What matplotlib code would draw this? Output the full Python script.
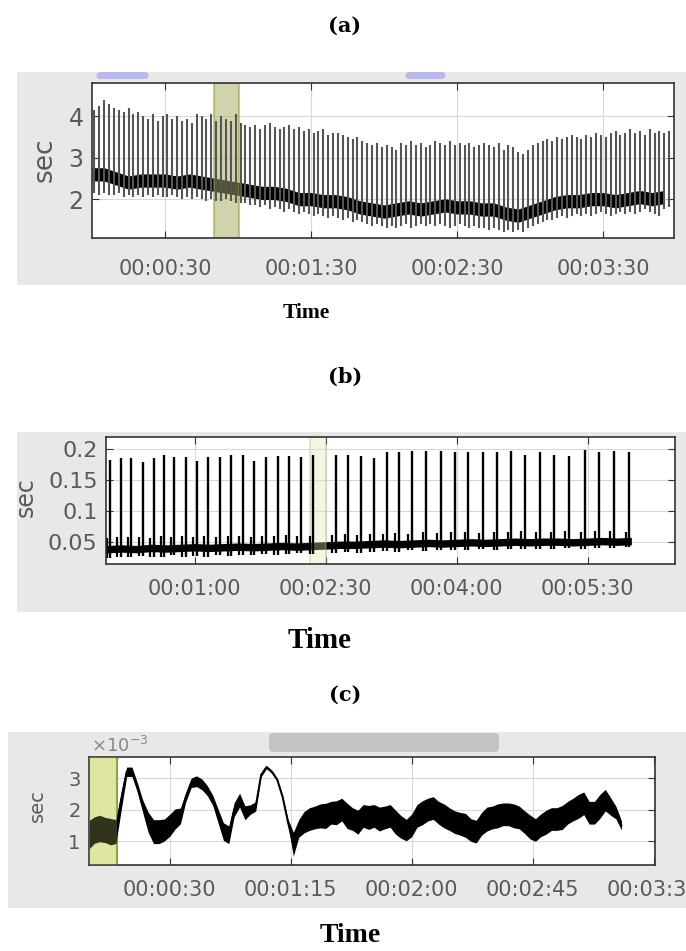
import numpy as np
import matplotlib
matplotlib.use('Agg')
import matplotlib.pyplot as plt
from matplotlib.patches import Rectangle, FancyBboxPatch
from matplotlib.ticker import FuncFormatter

# ---- panel (a): beat-to-beat spikes + dense black band (sec) ----
a_spike_step = 2.0   # s between spikes, first spike at 1 s
a_spike_top = [
    4.15, 4.25, 4.4, 4.3, 4.2, 4.15, 4.1, 4.2, 4.05, 4.1,
    4.0, 3.95, 4.05, 3.9, 4.0, 4.05, 3.95, 4.0, 3.9, 3.95,
    3.85, 4.05, 4.0, 3.95, 4.05, 3.9, 4.0, 3.95, 3.9, 4.05,
    3.85, 3.8, 3.75, 3.8, 3.7, 3.8, 3.85, 3.75, 3.7, 3.75,
    3.8, 3.7, 3.75, 3.65, 3.7, 3.6, 3.65, 3.7, 3.55, 3.6,
    3.6, 3.55, 3.5, 3.45, 3.5, 3.4, 3.35, 3.3, 3.35, 3.25,
    3.3, 3.25, 3.2, 3.35, 3.3, 3.4, 3.3, 3.35, 3.25, 3.3,
    3.4, 3.35, 3.3, 3.4, 3.3, 3.35, 3.3, 3.35, 3.25, 3.3,
    3.35, 3.3, 3.25, 3.35, 3.2, 3.3, 3.25, 3.15, 3.1, 3.2,
    3.3, 3.35, 3.4, 3.45, 3.4, 3.5, 3.45, 3.5, 3.55, 3.5,
    3.45, 3.55, 3.5, 3.6, 3.55, 3.5, 3.6, 3.65, 3.55, 3.6,
    3.7, 3.6, 3.65, 3.55, 3.7, 3.6, 3.65, 3.6, 3.65,
]
a_spike_low = [
    2.15, 2.1, 2.15, 2.1, 2.1, 2.15, 2.05, 2.1, 2.05, 2.1,
    2.05, 2.1, 2.05, 2.1, 2.05, 2.05, 2.1, 2.05, 2.0, 2.05,
    2.0, 2.05, 2.0, 1.95, 2.0, 1.95, 1.95, 2.0, 1.95, 1.9,
    1.9, 1.9, 1.85, 1.85, 1.8, 1.85, 1.75, 1.8, 1.75, 1.7,
    1.75, 1.7, 1.65, 1.7, 1.65, 1.6, 1.65, 1.6, 1.55, 1.6,
    1.55, 1.5, 1.55, 1.45, 1.5, 1.45, 1.4, 1.35, 1.4, 1.35,
    1.3, 1.35, 1.3, 1.35, 1.4, 1.3, 1.35, 1.4, 1.35, 1.4,
    1.35, 1.4, 1.35, 1.3, 1.35, 1.4, 1.35, 1.3, 1.35, 1.3,
    1.3, 1.25, 1.3, 1.25, 1.2, 1.25, 1.2, 1.25, 1.2, 1.3,
    1.35, 1.4, 1.45, 1.5, 1.5, 1.55, 1.6, 1.55, 1.6, 1.65,
    1.6, 1.65, 1.6, 1.65, 1.7, 1.65, 1.6, 1.65, 1.7, 1.65,
    1.7, 1.65, 1.7, 1.75, 1.7, 1.65, 1.6, 1.75, 1.8,
]
a_band_step = 5.0
a_band_mid = [
    2.6, 2.6, 2.5, 2.4, 2.45, 2.45, 2.45, 2.4, 2.45, 2.4,
    2.35, 2.3, 2.25, 2.2, 2.15, 2.15, 2.1, 2.0, 2.0, 1.95,
    1.95, 1.9, 1.8, 1.75, 1.7, 1.75, 1.8, 1.75, 1.8, 1.85,
    1.8, 1.8, 1.75, 1.75, 1.65, 1.6, 1.7, 1.8, 1.9, 1.95,
    1.95, 2.0, 2.0, 1.95, 2.0, 2.05, 2.0, 2.05,
]
a_band_spread = 0.16
a_window = [50, 60.5]

# ---- panel (b) ----
b_spike_t = [2, 9, 16.5, 24.5, 32, 39, 46, 54, 61.5, 69, 77, 85, 93, 101, 109,
             117, 125, 133, 141.5, 157, 165.5, 174, 183, 192, 200, 209, 219,
             229, 238.5, 248, 258, 268, 277.5, 287, 297, 307, 317, 328, 337.5,
             348, 358.5]
b_spike_top = [0.182, 0.185, 0.185, 0.178, 0.185, 0.19, 0.186, 0.186, 0.18, 0.186,
               0.186, 0.19, 0.19, 0.18, 0.186, 0.188, 0.188, 0.186, 0.19, 0.19,
               0.19, 0.188, 0.185, 0.195, 0.195, 0.196, 0.196, 0.196, 0.195, 0.195,
               0.195, 0.195, 0.196, 0.19, 0.195, 0.19, 0.188, 0.198, 0.195, 0.196,
               0.195]
b_spike_low = [0.024, 0.026, 0.025, 0.027, 0.025, 0.026, 0.028, 0.025, 0.027, 0.026,
               0.028, 0.027, 0.029, 0.028, 0.03, 0.029, 0.03, 0.031, 0.03, 0.032,
               0.033, 0.032, 0.034, 0.035, 0.034, 0.036, 0.035, 0.037, 0.036, 0.037,
               0.038, 0.037, 0.038, 0.039, 0.038, 0.039, 0.04, 0.039, 0.04, 0.04,
               0.041]
# small secondary bump reached between beats
b_bump_top = [0.056, 0.058, 0.057, 0.058, 0.056, 0.059, 0.058, 0.06, 0.057, 0.059,
              0.058, 0.06, 0.059, 0.058, 0.06, 0.059, 0.061, 0.06, 0.059, 0.061,
              0.062, 0.061, 0.063, 0.062, 0.064, 0.063, 0.065, 0.064, 0.066, 0.065,
              0.064, 0.066, 0.065, 0.067, 0.066, 0.065, 0.067, 0.066, 0.068, 0.067,
              0.066]
b_base_step = 10.0
b_base_mid = [0.038, 0.039, 0.038, 0.04, 0.039, 0.04, 0.041, 0.04, 0.041, 0.042,
              0.041, 0.042, 0.043, 0.042, 0.043, 0.044, 0.045, 0.045, 0.046, 0.047,
              0.046, 0.047, 0.048, 0.047, 0.048, 0.049, 0.048, 0.049, 0.05, 0.049,
              0.05, 0.05, 0.049, 0.05, 0.051, 0.05, 0.051]
b_base_spread = 0.006
b_window = [139, 150]

# ---- panel (c), values in 1e-3 sec ----
c_step = 2.0
c_mid = [
    1.2, 1.35, 1.4, 1.35, 1.3, 1.3, 2.3, 3.2, 3.2, 2.7,
    2.1, 1.6, 1.3, 1.3, 1.35, 1.5, 1.7, 1.8, 2.4, 2.85,
    2.9, 2.8, 2.6, 2.3, 1.8, 1.3, 1.2, 2.0, 2.3, 1.9,
    2.0, 2.1, 3.1, 3.35, 3.2, 2.95, 2.4, 1.6, 0.9, 1.4,
    1.6, 1.7, 1.75, 1.8, 1.8, 1.9, 1.9, 2.0, 1.8, 1.7,
    1.6, 1.8, 1.75, 1.8, 1.7, 1.75, 1.8, 1.6, 1.45, 1.35,
    1.5, 1.8, 1.9, 2.0, 2.05, 1.9, 1.8, 1.7, 1.6, 1.55,
    1.5, 1.35, 1.3, 1.55, 1.7, 1.75, 1.8, 1.85, 1.85, 1.8,
    1.75, 1.6, 1.45, 1.35, 1.5, 1.6, 1.7, 1.7, 1.75, 1.9,
    2.0, 2.1, 2.2, 1.9, 1.9, 2.1, 2.3, 2.1, 1.9, 1.5,
]
c_spread = [
    0.45, 0.42, 0.42, 0.4, 0.42, 0.38, 0.3, 0.15, 0.15, 0.15,
    0.2, 0.32, 0.38, 0.38, 0.35, 0.35, 0.32, 0.25, 0.15, 0.15,
    0.17, 0.17, 0.16, 0.16, 0.22, 0.28, 0.28, 0.22, 0.22, 0.22,
    0.15, 0.15, 0.06, 0.05, 0.05, 0.05, 0.06, 0.1, 0.38, 0.28,
    0.34, 0.36, 0.36, 0.38, 0.4, 0.36, 0.38, 0.36, 0.4, 0.36,
    0.38, 0.36, 0.38, 0.36, 0.38, 0.36, 0.36, 0.38, 0.36, 0.34,
    0.36, 0.36, 0.38, 0.36, 0.36, 0.36, 0.38, 0.36, 0.36, 0.36,
    0.38, 0.36, 0.36, 0.36, 0.38, 0.36, 0.38, 0.36, 0.36, 0.38,
    0.36, 0.36, 0.38, 0.36, 0.36, 0.38, 0.36, 0.36, 0.38, 0.36,
    0.36, 0.38, 0.36, 0.36, 0.36, 0.38, 0.34, 0.28, 0.2, 0.15,
]
c_window = [0, 10.5]

GREY = '#e8e8e8'
LABEL = '#5a5a5a'


def hms(x, pos):
    s = int(round(x))
    return f"{s // 3600:02d}:{(s % 3600) // 60:02d}:{s % 60:02d}"


def style(ax, xticks, xlim, yticks, ylim, ylabels, xpad, ysize):
    ax.set_zorder(3)
    ax.set_xlim(xlim)
    ax.set_ylim(ylim)
    ax.set_xticks(xticks)
    ax.xaxis.set_major_formatter(FuncFormatter(hms))
    ax.set_yticks(yticks)
    ax.set_yticklabels(ylabels)
    ax.grid(True, color='#d8d8d8', lw=0.8)
    ax.set_axisbelow(True)
    ax.tick_params(direction='in', length=5, width=0.8, top=True, right=True,
                   color='#333333', labelcolor=LABEL)
    ax.tick_params(axis='x', labelsize=15, pad=xpad)
    ax.tick_params(axis='y', labelsize=ysize, pad=6)
    for sp in ax.spines.values():
        sp.set_color('#333333')
        sp.set_linewidth(1.2)


fig = plt.figure(figsize=(6.86, 9.51), dpi=100)
W, H = 686.0, 951.0


def fx(px):
    return px / W


def fy(py):
    return 1 - py / H


def grey_panel(x0, y0, x1, y1):
    fig.patches.append(Rectangle((fx(x0), fy(y1)), fx(x1) - fx(x0), fy(y0) - fy(y1),
                                 transform=fig.transFigure, facecolor=GREY,
                                 edgecolor='none', zorder=-2))


def blob(x0, y0, x1, y1, color):
    fig.patches.append(FancyBboxPatch((fx(x0), fy(y1)), fx(x1) - fx(x0), fy(y0) - fy(y1),
                                      boxstyle='round,pad=0,rounding_size=0.006',
                                      transform=fig.transFigure, facecolor=color,
                                      edgecolor='none', zorder=-1))


grey_panel(17, 72, 686, 285)
grey_panel(17, 432, 686, 612)
grey_panel(8, 732, 686, 908)
blob(96, 72, 149, 79, '#b9b9f0')
blob(405, 72, 446, 79, '#b9b9f0')
blob(269, 733, 499, 752, '#c4c4c4')

# (a)
ax1 = fig.add_axes([fx(92), fy(238), fx(674) - fx(92), fy(83) - fy(238)])
t_sp = 1 + np.arange(len(a_spike_top)) * a_spike_step
ax1.vlines(t_sp, a_spike_low, a_spike_top, color='#555555', lw=1.5)
t_band = np.arange(len(a_band_mid)) * a_band_step
mid = np.array(a_band_mid)
ax1.fill_between(t_band, mid - a_band_spread, mid + a_band_spread, color='black', lw=0)
ax1.axvspan(*a_window, facecolor='#a7a85c', alpha=0.5, edgecolor='#8c9a35', lw=1.5)
style(ax1, [30, 90, 150, 210], (0, 239), [2, 3, 4], (1.06, 4.81), ['2', '3', '4'], 15, 17)

# (b)
ax2 = fig.add_axes([fx(106), fy(564), fx(675) - fx(106), fy(437) - fy(564)])
t_base = np.arange(len(b_base_mid)) * b_base_step
bm = np.array(b_base_mid)
ax2.fill_between(t_base, bm - b_base_spread, bm + b_base_spread, color='black', lw=0)
ax2.vlines(np.array(b_spike_t) - 2.5, b_spike_low, b_bump_top, color='black', lw=1.6)
ax2.vlines(b_spike_t, b_spike_low, b_spike_top, color='black', lw=1.7)
ax2.axvspan(*b_window, facecolor='#dfe6a8', alpha=0.35, edgecolor='#b3bb6a', lw=1.3)
style(ax2, [60, 150, 240, 330], (-1, 390), [0.05, 0.1, 0.15, 0.2], (0.014, 0.219),
      ['0.05', '0.1', '0.15', '0.2'], 11, 16)

# (c)
ax3 = fig.add_axes([fx(89), fy(865), fx(655) - fx(89), fy(757) - fy(865)])
t_c = np.arange(len(c_mid)) * c_step
cm = np.array(c_mid)
cs = np.array(c_spread)
ax3.axvspan(*c_window, facecolor='#e9eeb4', edgecolor='#8f9a3c', lw=1.5, zorder=0.8)
ax3.fill_between(t_c, cm - cs, cm + cs, color='black', lw=0, zorder=2)
ax3.plot(t_c, cm, color='black', lw=1.4, zorder=2)
ax3.axvspan(*c_window, facecolor='#c8cf70', alpha=0.25, edgecolor='none', zorder=3)
style(ax3, [30, 75, 120, 165, 210], (0, 210.5), [1, 2, 3], (0.24, 3.67),
      ['1', '2', '3'], 11, 14)
fig.text(fx(91), fy(746), r'$\times10^{-3}$', fontsize=13, color='#8a8a8a',
         ha='left', va='center')

# y labels
fig.text(fx(45), fy(160), 'sec', rotation=90, fontsize=19, color=LABEL, ha='center', va='center')
fig.text(fx(26), fy(497), 'sec', rotation=90, fontsize=17, color=LABEL, ha='center', va='center')
fig.text(fx(37), fy(806), 'sec', rotation=90, fontsize=14, color=LABEL, ha='center', va='center')

# panel titles and "Time" captions
for ttl, py in [('(a)', 26), ('(b)', 377), ('(c)', 695)]:
    fig.text(fx(345), fy(py), ttl, fontsize=15, fontweight='bold', family='DejaVu Serif',
             ha='center', va='center')
fig.text(fx(306), fy(313), 'Time', fontsize=15.5, fontweight='bold',
         family='Liberation Serif', ha='center', va='center')
fig.text(fx(320), fy(640), 'Time', fontsize=21, fontweight='bold',
         family='Liberation Serif', ha='center', va='center')
fig.text(fx(350), fy(936), 'Time', fontsize=20, fontweight='bold',
         family='Liberation Serif', ha='center', va='center')

fig.savefig('out.png', dpi=100)
